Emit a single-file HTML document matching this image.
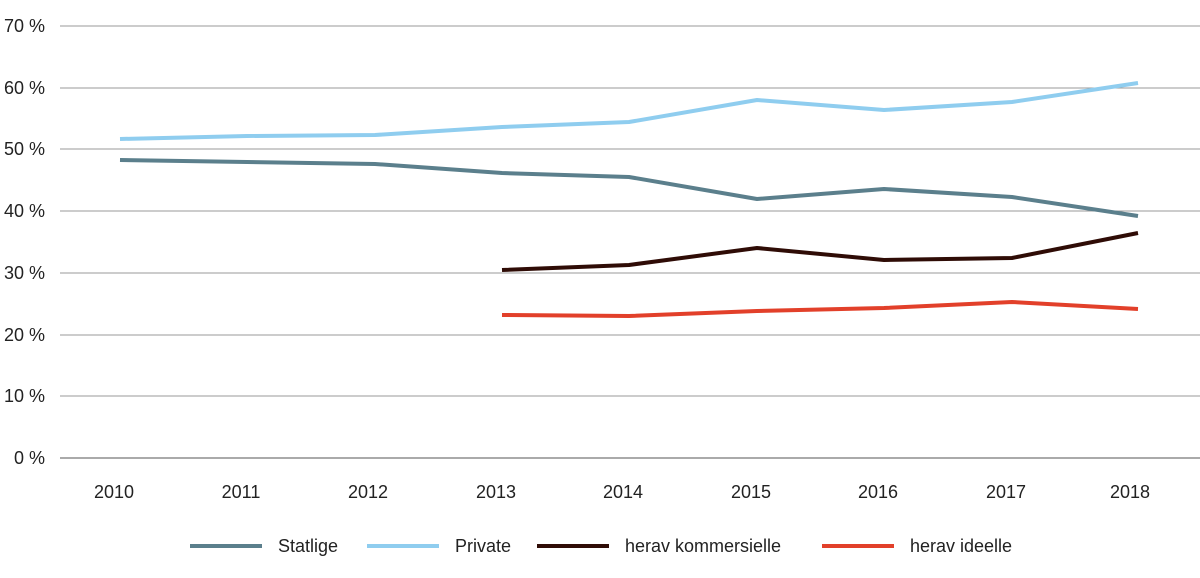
<!DOCTYPE html>
<html><head><meta charset="utf-8"><style>body{margin:0;background:#fff}</style></head><body>
<svg width="1200" height="573" xmlns="http://www.w3.org/2000/svg" font-family="Liberation Sans, sans-serif" font-size="18" fill="#222">
<g stroke="#9a9a9a" stroke-width="1">
<line x1="60" x2="1200" y1="26" y2="26"/><line x1="60" x2="1200" y1="88" y2="88"/><line x1="60" x2="1200" y1="149" y2="149"/><line x1="60" x2="1200" y1="211" y2="211"/><line x1="60" x2="1200" y1="273" y2="273"/><line x1="60" x2="1200" y1="335" y2="335"/><line x1="60" x2="1200" y1="396" y2="396"/><line x1="60" x2="1200" y1="458" y2="458" stroke="#555"/>
</g>
<g text-anchor="end">
<text x="45" y="32">70 %</text><text x="45" y="94">60 %</text><text x="45" y="155">50 %</text><text x="45" y="217">40 %</text><text x="45" y="279">30 %</text><text x="45" y="341">20 %</text><text x="45" y="402">10 %</text><text x="45" y="464">0 %</text>
</g>
<g text-anchor="middle">
<text x="114" y="498">2010</text><text x="241" y="498">2011</text><text x="368" y="498">2012</text><text x="496" y="498">2013</text><text x="623" y="498">2014</text><text x="751" y="498">2015</text><text x="878" y="498">2016</text><text x="1006" y="498">2017</text><text x="1130" y="498">2018</text>
</g>
<g fill="none" stroke-width="4" stroke-linejoin="round">
<polyline stroke="#8fcdef" points="120,139 247,136 375,135 502,127 629,122 757,100 884,110 1012,102 1138,83"/>
<polyline stroke="#5b7f8c" points="120,160 247,162 375,164 502,173 629,177 757,199 884,189 1012,197 1138,216"/>
<polyline stroke="#2f0c06" points="502,270 629,265 757,248 884,260 1012,258 1138,233"/>
<polyline stroke="#e2402a" points="502,315 629,316 757,311 884,308 1012,302 1138,309"/>
</g>
<g stroke-width="4">
<line x1="190" x2="262" y1="546" y2="546" stroke="#5b7f8c"/>
<line x1="367" x2="439" y1="546" y2="546" stroke="#8fcdef"/>
<line x1="537" x2="609" y1="546" y2="546" stroke="#2f0c06"/>
<line x1="822" x2="894" y1="546" y2="546" stroke="#e2402a"/>
</g>
<text x="278" y="552">Statlige</text><text x="455" y="552">Private</text><text x="625" y="552">herav kommersielle</text><text x="910" y="552">herav ideelle</text>
</svg>
</body></html>
